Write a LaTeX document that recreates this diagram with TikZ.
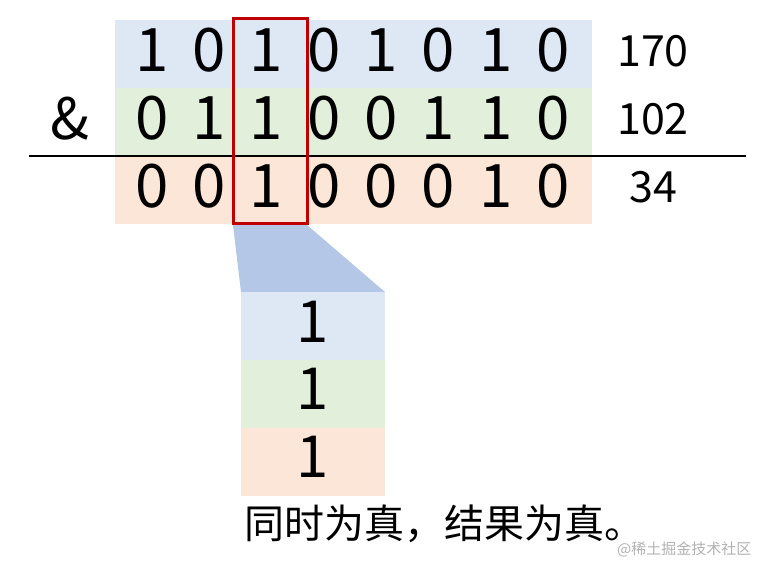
\documentclass[tikz,border=0pt]{standalone}
\usepackage{fontspec}
\setmainfont{Noto Sans CJK SC}
\usetikzlibrary{positioning}

\definecolor{rowblue}{HTML}{DEE8F5}
\definecolor{rowgreen}{HTML}{E2EFDA}
\definecolor{roworange}{HTML}{FBE6D8}
\definecolor{zoomblue}{HTML}{B4C7E7}
\definecolor{boxred}{HTML}{C00000}

\tikzset{
  bit/.style={inner sep=0pt, font=\fontsize{60}{60}\selectfont},
  dec/.style={inner sep=0pt, font=\fontsize{43}{43}\selectfont},
}

\begin{document}
\begin{tikzpicture}[x=1pt,y=-1pt]
    \useasboundingbox (0,0) rectangle (775,564);
    % Drawing row bands
    \fill [rowblue]   (115, 20) rectangle (592, 88);
    \fill [rowgreen]  (115, 88) rectangle (592,156);
    \fill [roworange] (115,157) rectangle (592,224);
    % Drawing bits
    \foreach \b [count=\i] in {1,0,1,0,1,0,1,0}{
      \node [bit] (a\i) at ({152 + 57.3*(\i - 1)}, 50) {\b};
    }
    \foreach \b [count=\i] in {0,1,1,0,0,1,1,0}{
      \node [bit] (b\i) at ({152 + 57.3*(\i - 1)},118.5) {\b};
    }
    \foreach \b [count=\i] in {0,0,1,0,0,0,1,0}{
      \node [bit] (c\i) at ({152 + 57.3*(\i - 1)},186) {\b};
    }
    \node [bit, font=\fontsize{57}{57}\selectfont] (amp) at (70,118.5) {\&};
    \node [dec] (na) at (653, 51) {170};
    \node [dec] (nb) at (653,119) {102};
    \node [dec] (nc) at (653,187) {34};
    \draw [line width=2pt] (29,156) -- (746,156);
    % Drawing zoomed column
    \fill [zoomblue] (233,225) -- (307,225) -- (385,292) -- (241,292) -- cycle;
    \fill [rowblue]   (241,292) rectangle (385,360);
    \fill [rowgreen]  (241,360) rectangle (385,428);
    \fill [roworange] (241,428) rectangle (385,496);
    \foreach \y [count=\i] in {321.5,389,457}{
      \node [bit, font=\fontsize{58}{58}\selectfont] (z\i) at (313,\y) {1};
    }
    \draw [boxred, line width=3pt] (233,19) rectangle (307,223);
    % Caption
    \node [inner sep=0pt, anchor=west, font=\fontsize{40}{40}\selectfont] (note) at (244,524) {同时为真，结果为真。};
    \node [inner sep=0pt, anchor=west, text=black!30, font=\fontsize{15}{15}\selectfont] (mark) at (617,549) {@稀土掘金技术社区};
\end{tikzpicture}
\end{document}
